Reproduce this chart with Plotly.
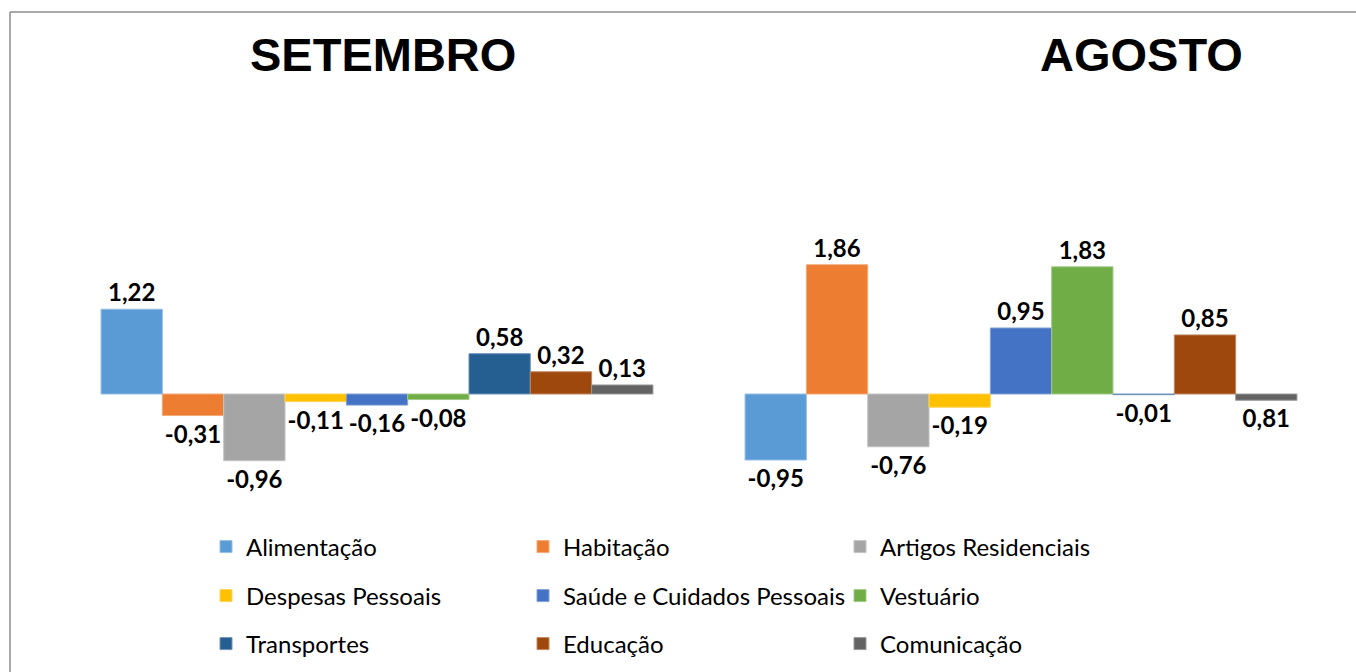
import plotly.graph_objects as go

# ---------------- data ----------------
periods = ["SETEMBRO", "AGOSTO"]
categories = ["Alimentação", "Habitação", "Artigos Residenciais",
              "Despesas Pessoais", "Saúde e Cuidados Pessoais", "Vestuário",
              "Transportes", "Educação", "Comunicação"]
setembro = [1.22, -0.31, -0.96, -0.11, -0.16, -0.08, 0.58, 0.32, 0.13]
agosto = [-0.95, 1.86, -0.76, -0.19, 0.95, 1.83, -0.01, 0.85, -0.09]
setembro_labels = ["1,22", "-0,31", "-0,96", "-0,11", "-0,16", "-0,08", "0,58", "0,32", "0,13"]
agosto_labels = ["-0,95", "1,86", "-0,76", "-0,19", "0,95", "1,83", "-0,01", "0,85", "0,81"]

# ---------------- style ----------------
colors = ["#5B9BD5", "#ED7D31", "#A5A5A5", "#FFC000", "#4472C4",
          "#70AD47", "#255E91", "#9E480E", "#636363"]


def tint(hex_color, amount=0.35):
    h = hex_color.lstrip("#")
    r, g, b = (int(h[k:k + 2], 16) for k in (0, 2, 4))
    r, g, b = (round(c + (255 - c) * amount) for c in (r, g, b))
    return f"rgb({r},{g},{b})"


W, H = 1356, 672
ML, MR, MT, MB = 55, 13, 100, 190
PW, PH = W - ML - MR, H - MT - MB
ZERO_PX = 394
PX_PER_UNIT = 69.5
y_range = [-(H - MB - ZERO_PX) / PX_PER_UNIT, (ZERO_PX - MT) / PX_PER_UNIT]


def px_x(px):
    return (px - ML) / PW


def px_y(py):
    return (H - MB - py) / PH


label_font = dict(family="Lato, 'Noto Sans', sans-serif", size=24, color="#000000", weight="bold")
legend_font = dict(family="Lato, 'Noto Sans', sans-serif", size=24, color="#000000")
title_font = dict(family="'Liberation Sans', Arial, sans-serif", size=47, color="#000000", weight="bold")

fig = go.Figure()
legend_names = ["legend", "legend2", "legend3"]
for i, cat in enumerate(categories):
    fig.add_trace(go.Bar(
        name=cat,
        x=periods,
        y=[setembro[i], agosto[i]],
        text=[setembro_labels[i], agosto_labels[i]],
        textposition="outside",
        textangle=0,
        constraintext="none",
        cliponaxis=False,
        textfont=label_font,
        marker=dict(color=colors[i], line=dict(color=tint(colors[i]), width=1)),
        legend=legend_names[i // 3],
        hoverinfo="skip",
    ))

legend_rows_px = [547, 596, 644]
legend_common = dict(orientation="h", xanchor="left", yanchor="middle",
                     x=px_x(206), entrywidth=272, entrywidthmode="pixels",
                     font=legend_font, bgcolor="rgba(0,0,0,0)", borderwidth=0,
                     itemclick=False, itemdoubleclick=False)

fig.update_layout(
    width=W, height=H,
    margin=dict(l=ML, r=MR, t=MT, b=MB, pad=0, autoexpand=False),
    paper_bgcolor="#FFFFFF", plot_bgcolor="#FFFFFF",
    barmode="group", bargap=0.143, bargroupgap=0,
    showlegend=True,
    legend=dict(y=px_y(legend_rows_px[0]), **legend_common),
    legend2=dict(y=px_y(legend_rows_px[1]), **legend_common),
    legend3=dict(y=px_y(legend_rows_px[2]), **legend_common),
    xaxis=dict(visible=False, range=[-0.5, 1.5]),
    yaxis=dict(visible=False, range=y_range, showgrid=False, zeroline=False),
)

fig.add_annotation(text="SETEMBRO", x=px_x(383), y=px_y(54), xref="paper", yref="paper",
                   xanchor="center", yanchor="middle", showarrow=False, font=title_font)
fig.add_annotation(text="AGOSTO", x=px_x(1141), y=px_y(54), xref="paper", yref="paper",
                   xanchor="center", yanchor="middle", showarrow=False, font=title_font)

border = dict(color="#8C8C8C", width=1.5)
fig.add_shape(type="line", xref="paper", yref="paper",
              x0=px_x(10), x1=px_x(10), y0=px_y(12), y1=px_y(H + 5), line=border)
fig.add_shape(type="line", xref="paper", yref="paper",
              x0=px_x(10), x1=px_x(W + 5), y0=px_y(12), y1=px_y(12), line=border)

fig.write_html("out.html", config={"displayModeBar": False},
               post_script="document.body.style.margin='0';document.body.style.overflow='hidden';")
